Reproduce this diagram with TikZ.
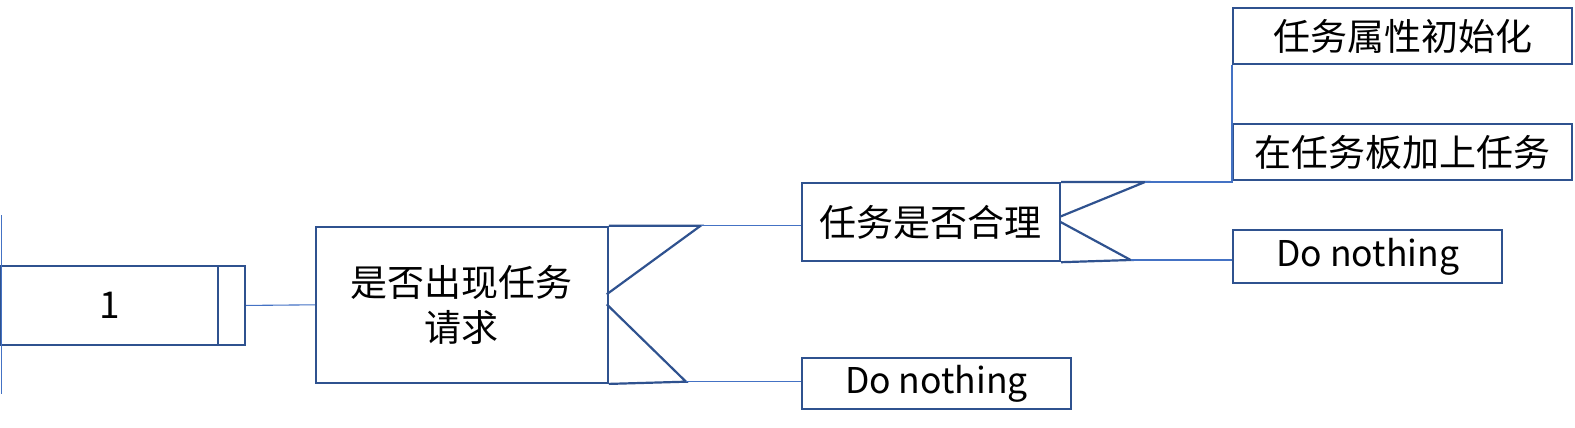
\documentclass[tikz,border=0pt]{standalone}
\usepackage{fontspec}
\setmainfont{Noto Sans CJK SC}
\definecolor{boxblue}{HTML}{2F528F}
\definecolor{linkblue}{HTML}{4472C4}
\begin{document}
\begin{tikzpicture}[x=1pt,y=-1pt,
  box/.style={draw=boxblue,line width=2.2pt,rectangle,anchor=north west,inner sep=0pt,
    font=\fontsize{37}{45}\selectfont,align=center},
  latinbox/.style={box,font=\fontsize{35.5}{42}\selectfont},
  chev/.style={draw=boxblue,line width=2.2pt},
  link/.style={draw=linkblue,line width=1.1pt}]
\useasboundingbox (0,0) rectangle (1575,428);
% box 1
\node[box,minimum width=217pt,minimum height=79.3pt] (b1) at (0,264.7) {1};
\node[box,minimum width=27pt,minimum height=79.3pt] (b1c) at (217,264.7) {};
% box 2
\node[box,minimum width=291.7pt,minimum height=156pt] (b2) at (315,225.7) {是否出现任务\\请求};
\coordinate (c2top) at (700.7,225.7);
\coordinate (c2v1) at (606.7,294.3);
\coordinate (c2v2) at (606.7,304.3);
\coordinate (c2bot) at (686,381.7);
\draw[chev] (b2.north east) -- (c2top) -- (c2v1);
\draw[chev] (c2v2) -- (c2bot) -- (b2.south east);
% box 3
\node[box,minimum width=258.3pt,minimum height=78pt] (b3) at (800.7,182) {任务是否合理};
\coordinate (c3top) at (1145,182);
\coordinate (c3v1) at (1060,216.7);
\coordinate (c3v2) at (1060,221.7);
\coordinate (c3bot) at (1130.7,260);
\draw[chev] (b3.north east) -- (c3top) -- (c3v1);
\draw[chev] (c3v2) -- (c3bot) -- (b3.south east);
% leaves
\node[latinbox,minimum width=269.3pt,minimum height=51pt] (dn1) at (800.7,357) {Do nothing};
\node[box,minimum width=339pt,minimum height=56pt] (t1) at (1232,7) {任务属性初始化};
\node[box,minimum width=339pt,minimum height=56pt] (t2) at (1232,123) {在任务板加上任务};
\node[latinbox,minimum width=269pt,minimum height=53pt] (dn2) at (1232,229) {Do nothing};
% left rule
\coordinate (lt) at (1.5,215);
\coordinate (lb) at (1.5,394);
\draw[link] (lt) -- (lb);
% connectors
\draw[link] (b1c.east) -- (b2.west);
\draw[link] (c2top) -- (c2top -| b3.west);
\draw[link] (c2bot) -- (c2bot -| dn1.west);
\draw[link] (c3top) -- (c3top -| t2.west) -- (t1.south west);
\draw[link] (c3bot) -- (c3bot -| dn2.west);
\end{tikzpicture}
\end{document}
